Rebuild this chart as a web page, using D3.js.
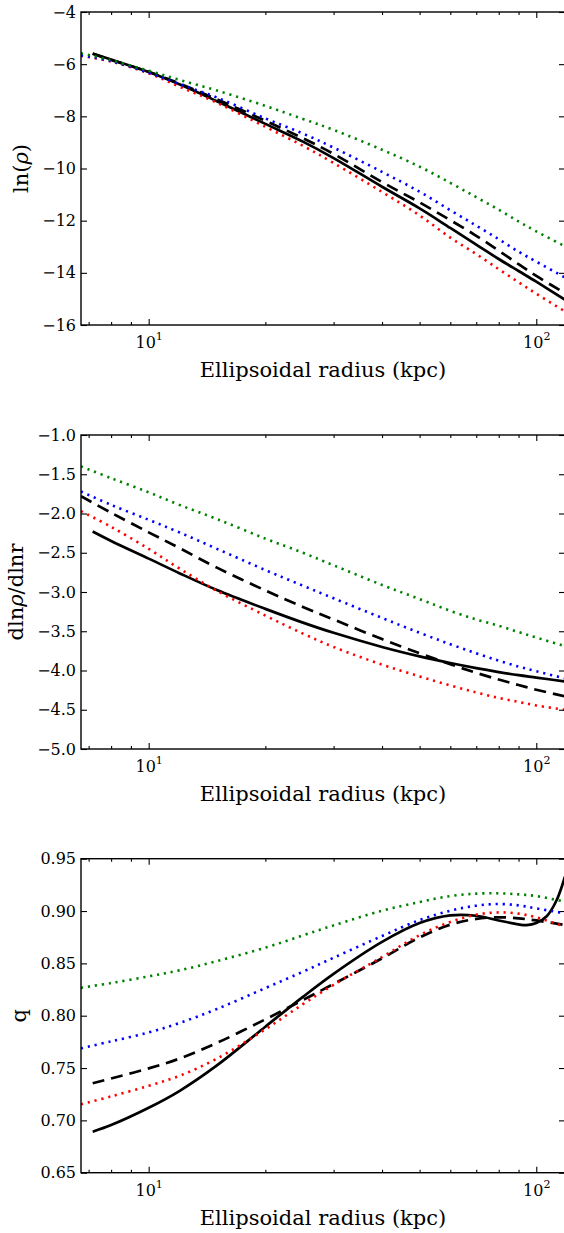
<!DOCTYPE html>
<html>
<head>
<meta charset="utf-8">
<script src="https://cdn.jsdelivr.net/npm/d3@7"></script>
<style>
  html, body { margin: 0; padding: 0; background: #fff; }
  svg { display: block; font-family: "DejaVu Serif", serif; }
</style>
</head>
<body>
<svg id="chart" width="564" height="1233"></svg>
<script>
// ---- data -------------------------------------------------------------
// Ellipsoidal radius samples (kpc)
const radiusGrid      = [6.69, 8, 10, 12, 15, 20, 25, 30, 40, 50, 60, 70, 80, 90, 100, 118.6];
const radiusGridBlack = [7.17, 8, 10, 12, 15, 20, 25, 30, 40, 50, 60, 70, 80, 90, 100, 118.6];
const radiusQSolid    = [7.17, 8, 10, 12, 15, 20, 25, 30, 40, 50, 60, 70, 80, 90, 94.4, 100, 106.4, 112.9, 118.6];

// ln(rho)
const lnRhoSolid  = [-5.59, -5.82, -6.30, -6.77, -7.42, -8.29, -8.97, -9.60, -10.70, -11.53, -12.28, -12.92, -13.47, -13.93, -14.34, -15.03];
const lnRhoDashed = [-5.60, -5.84, -6.29, -6.74, -7.35, -8.17, -8.84, -9.44, -10.52, -11.30, -11.98, -12.58, -13.15, -13.67, -14.12, -14.78];
const lnRhoRed    = [-5.68, -5.90, -6.35, -6.86, -7.48, -8.40, -9.13, -9.79, -10.90, -11.80, -12.65, -13.28, -13.86, -14.36, -14.80, -15.48];
const lnRhoBlue   = [-5.66, -5.88, -6.33, -6.76, -7.28, -8.08, -8.66, -9.20, -10.13, -10.89, -11.60, -12.19, -12.71, -13.19, -13.57, -14.18];
const lnRhoGreen  = [-5.58, -5.85, -6.25, -6.60, -7.01, -7.60, -8.10, -8.52, -9.28, -9.93, -10.55, -11.10, -11.58, -12.03, -12.41, -12.98];

// dln(rho)/dln(r)
const slopeSolid  = [-2.23, -2.35, -2.575, -2.76, -2.975, -3.215, -3.39, -3.52, -3.70, -3.82, -3.905, -3.97, -4.02, -4.06, -4.09, -4.14];
const slopeDashed = [-1.78, -1.99, -2.24, -2.44, -2.69, -2.98, -3.19, -3.35, -3.60, -3.78, -3.92, -4.03, -4.115, -4.185, -4.245, -4.33];
const slopeRed    = [-1.97, -2.17, -2.45, -2.70, -2.985, -3.30, -3.53, -3.70, -3.925, -4.075, -4.19, -4.28, -4.35, -4.40, -4.445, -4.50];
const slopeBlue   = [-1.72, -1.89, -2.08, -2.24, -2.45, -2.72, -2.92, -3.08, -3.33, -3.52, -3.665, -3.78, -3.875, -3.95, -4.01, -4.10];
const slopeGreen  = [-1.40, -1.55, -1.73, -1.89, -2.07, -2.32, -2.50, -2.66, -2.91, -3.09, -3.24, -3.35, -3.43, -3.51, -3.58, -3.69];

// axis ratio q
const qSolid  = [0.6892, 0.6955, 0.7120, 0.7280, 0.7525, 0.7895, 0.8180, 0.8400, 0.8705, 0.8885, 0.8958, 0.8955, 0.8910, 0.8872, 0.8866, 0.8885, 0.8950, 0.9105, 0.9330];
const qDashed = [0.7354, 0.7400, 0.7497, 0.7590, 0.7740, 0.7965, 0.8150, 0.8303, 0.8548, 0.8748, 0.8870, 0.8925, 0.8940, 0.8930, 0.8910, 0.8866];
const qRed    = [0.7153, 0.7229, 0.7330, 0.7425, 0.7590, 0.7870, 0.8110, 0.8295, 0.8560, 0.8770, 0.8895, 0.8965, 0.8987, 0.8975, 0.8939, 0.8850];
const qBlue   = [0.7688, 0.7755, 0.7840, 0.7930, 0.8064, 0.8264, 0.8420, 0.8554, 0.8761, 0.8914, 0.9003, 0.9051, 0.9067, 0.9054, 0.9025, 0.8978];
const qGreen  = [0.8267, 0.8312, 0.8376, 0.8433, 0.8522, 0.8650, 0.8767, 0.8863, 0.9003, 0.9086, 0.9143, 0.9166, 0.9169, 0.9159, 0.9143, 0.9089];

// ticks
const xMajorTicks = [10, 100];
const xMinorTicks = [7, 8, 9, 20, 30, 40, 50, 60, 70, 80, 90];
const lnRhoTicks  = [-16, -14, -12, -10, -8, -6, -4];
const slopeTicks  = [-5.0, -4.5, -4.0, -3.5, -3.0, -2.5, -2.0, -1.5, -1.0];
const qTicks      = [0.65, 0.70, 0.75, 0.80, 0.85, 0.90, 0.95];

// ---- layout & styles --------------------------------------------------
const plotLeft = 81, plotRight = 565;
const tickFont = 16, labelFont = 21;
const majorLen = 6, minorLen = 3;

const lineStyles = {
  solid:  { color: "#000000", width: 2.7, dash: null },
  dashed: { color: "#000000", width: 2.7, dash: "12,7" },
  red:    { color: "#ff0000", width: 2.6, dash: "2.2,4.8" },
  blue:   { color: "#0000ff", width: 2.6, dash: "2.2,4.8" },
  green:  { color: "#008000", width: 2.6, dash: "2.2,4.8" }
};

const panels = [
  {
    top: 12, bottom: 325, domain: [-16, -4], ticks: lnRhoTicks, format: d3.format("d"),
    ylabel: [["ln(", false], ["ρ", true], [")", false]],
    series: [
      ["solid",  radiusGridBlack, lnRhoSolid],
      ["dashed", radiusGridBlack, lnRhoDashed],
      ["red",    radiusGrid,      lnRhoRed],
      ["blue",   radiusGrid,      lnRhoBlue],
      ["green",  radiusGrid,      lnRhoGreen]
    ]
  },
  {
    top: 435, bottom: 749, domain: [-5, -1], ticks: slopeTicks, format: d3.format(".1f"),
    ylabel: [["dln", false], ["ρ", true], ["/dlnr", false]],
    series: [
      ["solid",  radiusGridBlack, slopeSolid],
      ["dashed", radiusGrid,      slopeDashed],
      ["red",    radiusGrid,      slopeRed],
      ["blue",   radiusGrid,      slopeBlue],
      ["green",  radiusGrid,      slopeGreen]
    ]
  },
  {
    top: 858.7, bottom: 1172.7, domain: [0.65, 0.95], ticks: qTicks, format: d3.format(".2f"),
    ylabel: [["q", false]],
    series: [
      ["solid",  radiusQSolid,    qSolid],
      ["dashed", radiusGridBlack, qDashed],
      ["red",    radiusGrid,      qRed],
      ["blue",   radiusGrid,      qBlue],
      ["green",  radiusGrid,      qGreen]
    ]
  }
];

// ---- drawing ----------------------------------------------------------
const svg = d3.select("#chart");
const x = d3.scaleLog().domain([6.69, 118.6]).range([plotLeft, plotRight]);

function styleAxis(g) {
  g.attr("font-family", null).attr("font-size", tickFont);
  g.select(".domain").remove();
  g.selectAll(".tick line").attr("stroke", "#000").attr("stroke-width", 1.1);
  g.selectAll(".tick text").attr("fill", "#000");
}

panels.forEach((p, i) => {
  const y = d3.scaleLinear().domain(p.domain).range([p.bottom, p.top]);
  const clipId = "clip" + i;

  svg.append("clipPath").attr("id", clipId)
    .append("rect")
    .attr("x", plotLeft).attr("y", p.top)
    .attr("width", plotRight - plotLeft).attr("height", p.bottom - p.top);

  // curves
  const line = d3.line()
    .x(d => x(d[0]))
    .y(d => y(d[1]))
    .curve(d3.curveCatmullRom.alpha(0.5));

  const lines = svg.append("g").attr("clip-path", `url(#${clipId})`);
  p.series.forEach(([key, radii, values]) => {
    const st = lineStyles[key];
    lines.append("path")
      .datum(d3.zip(radii, values))
      .attr("d", line)
      .attr("fill", "none")
      .attr("stroke", st.color)
      .attr("stroke-width", st.width)
      .attr("stroke-dasharray", st.dash)
      .attr("stroke-linecap", "butt")
      .attr("stroke-linejoin", "round");
  });

  // left axis with labels
  const gLeft = svg.append("g")
    .attr("transform", `translate(${plotLeft},0)`)
    .call(d3.axisLeft(y).tickValues(p.ticks).tickFormat(p.format)
      .tickSizeInner(-majorLen).tickSizeOuter(0).tickPadding(5));
  styleAxis(gLeft);

  // right axis (ticks only)
  const gRight = svg.append("g")
    .attr("transform", `translate(${plotRight},0)`)
    .call(d3.axisRight(y).tickValues(p.ticks).tickFormat("")
      .tickSizeInner(-majorLen).tickSizeOuter(0));
  styleAxis(gRight);

  // bottom axis: majors with 10^n labels, minors
  const gBottom = svg.append("g")
    .attr("transform", `translate(0,${p.bottom})`)
    .call(d3.axisBottom(x).tickValues(xMajorTicks).tickFormat(() => "")
      .tickSizeInner(-majorLen).tickSizeOuter(0).tickPadding(12));
  styleAxis(gBottom);
  gBottom.selectAll(".tick text").each(function(d) {
    const t = d3.select(this);
    t.append("tspan").text("10");
    t.append("tspan").attr("dy", -8).attr("font-size", 11)
      .text(Math.round(Math.log10(d)));
  });
  const gBottomMinor = svg.append("g")
    .attr("transform", `translate(0,${p.bottom})`)
    .call(d3.axisBottom(x).tickValues(xMinorTicks).tickFormat("")
      .tickSizeInner(-minorLen).tickSizeOuter(0));
  styleAxis(gBottomMinor);

  // top axis (ticks only)
  const gTop = svg.append("g")
    .attr("transform", `translate(0,${p.top})`)
    .call(d3.axisTop(x).tickValues(xMajorTicks).tickFormat("")
      .tickSizeInner(-majorLen).tickSizeOuter(0));
  styleAxis(gTop);
  const gTopMinor = svg.append("g")
    .attr("transform", `translate(0,${p.top})`)
    .call(d3.axisTop(x).tickValues(xMinorTicks).tickFormat("")
      .tickSizeInner(-minorLen).tickSizeOuter(0));
  styleAxis(gTopMinor);

  // frame
  svg.append("rect")
    .attr("x", plotLeft).attr("y", p.top)
    .attr("width", plotRight - plotLeft).attr("height", p.bottom - p.top)
    .attr("fill", "none").attr("stroke", "#000").attr("stroke-width", 1.4);

  // x label
  svg.append("text")
    .attr("x", (plotLeft + plotRight) / 2)
    .attr("y", p.bottom + 52)
    .attr("text-anchor", "middle")
    .attr("font-size", labelFont)
    .attr("fill", "#000")
    .text("Ellipsoidal radius (kpc)");

  // y label, placed just left of the tick labels
  const tickLeft = plotLeft + gLeft.node().getBBox().x;
  const cy = (p.top + p.bottom) / 2;
  const yl = svg.append("text")
    .attr("text-anchor", "middle")
    .attr("font-size", labelFont)
    .attr("fill", "#000")
    .attr("transform", `translate(0,${cy}) rotate(-90)`);
  p.ylabel.forEach(([s, italic]) => {
    yl.append("tspan").attr("font-style", italic ? "italic" : null).text(s);
  });
  const box = yl.node().getBoundingClientRect();
  const shift = (tickLeft - 9) - box.right;
  yl.attr("transform", `translate(${shift},${cy}) rotate(-90)`);
});
</script>
</body>
</html>
